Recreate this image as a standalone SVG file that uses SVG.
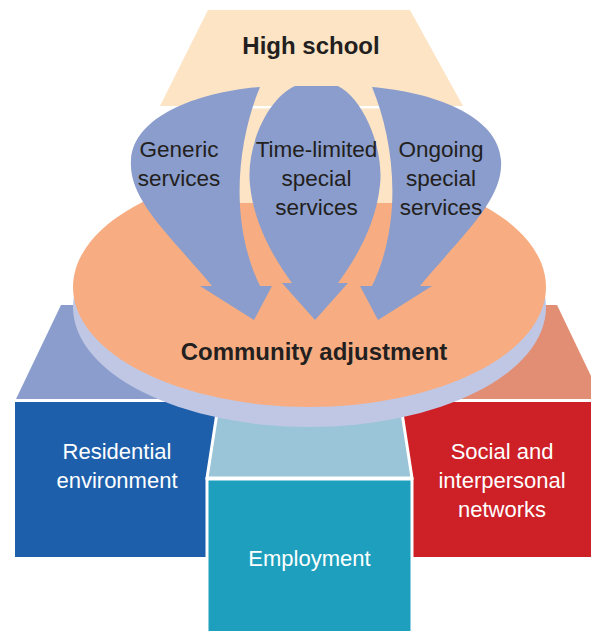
<svg xmlns="http://www.w3.org/2000/svg" width="591" height="631" viewBox="0 0 591 631">
<style>
.dark{font-family:"Liberation Sans",Arial,Helvetica,sans-serif;fill:#231f20;text-anchor:middle}
.bold{font-weight:bold}
.svc{font-size:22.5px}
.box{font-family:"Liberation Sans",Arial,Helvetica,sans-serif;fill:#ffffff;text-anchor:middle;font-size:22px}
.arrow{fill:#8a9dcc}
.sep{stroke:#ffffff;stroke-width:3;stroke-linejoin:miter}
</style>
<rect width="591" height="631" fill="#ffffff"/>
<g id="residential-base">
<polygon points="61,305 260,305 260,399 16,399" fill="#8a9dcc"/>
</g>
<g id="social-base">
<polygon points="360,305 557,305 602,399 360,399" fill="#e28e74"/>
</g>
<g id="residential-environment">
<polygon points="15,402 221,402 208,479 208,557 15,557" fill="#1e5fab"/>
<text class="box" x="117" y="459">Residential</text>
<text class="box" x="117" y="488">environment</text>
</g>
<g id="social-networks">
<polygon points="398,402 591,402 591,557 411,557 411,479" fill="#cd2027"/>
<text class="box" x="502" y="459">Social and</text>
<text class="box" x="502" y="488">interpersonal</text>
<text class="box" x="502" y="517">networks</text>
</g>
<g id="employment-base">
<polygon class="sep" points="219,400 400,400 412,478 207,478" fill="#9ac5d8"/>
</g>
<g id="employment">
<rect class="sep" x="207" y="479" width="205" height="160" fill="#1d9fbd"/>
<text class="box" x="309.5" y="566">Employment</text>
</g>
<g id="community-adjustment">
<ellipse cx="309.5" cy="307" rx="236.5" ry="120" fill="#c0c7e4"/>
<ellipse cx="309.5" cy="287" rx="236.5" ry="120" fill="#f7ad81"/>
<text class="dark bold" x="314" y="360" font-size="24">Community adjustment</text>
</g>
<g id="high-school">
<polygon points="208,10 410,10 463,106 160,106" fill="#fde4c4"/>
<rect x="215" y="108.5" width="200" height="94.5" fill="#fde4c4"/>
<text class="dark bold" x="311" y="54" font-size="24">High school</text>
</g>
<g id="connectors">
<path id="generic-arrow" class="arrow" d="M260,87 C238,140 228,220 260,286 L272,286 L254,320 L200,286 L212,286 C170,235 128,200 131,160 C134,115 200,92 260,87 Z"/>
<path id="time-limited-arrow" class="arrow" d="M295,86 C265,100 246,150 250,185 C254,225 275,260 292,283 L282,283 L315,320 L348,283 L338,283 C355,260 376,225 380,185 C384,150 365,100 338,86 Z"/>
<path id="ongoing-arrow" class="arrow" d="M372,87 C394,140 404,220 372,286 L360,286 L378,320 L432,286 L420,286 C462,235 504,200 501,160 C498,115 432,92 372,87 Z"/>
</g>
<g id="generic-services">
<text class="dark svc" x="179" y="157">Generic</text>
<text class="dark svc" x="179" y="186">services</text>
</g>
<g id="time-limited-services">
<text class="dark svc" x="316.5" y="157">Time-limited</text>
<text class="dark svc" x="316.5" y="186">special</text>
<text class="dark svc" x="316.5" y="215">services</text>
</g>
<g id="ongoing-services">
<text class="dark svc" x="441" y="157">Ongoing</text>
<text class="dark svc" x="441" y="186">special</text>
<text class="dark svc" x="441" y="215">services</text>
</g>
</svg>
